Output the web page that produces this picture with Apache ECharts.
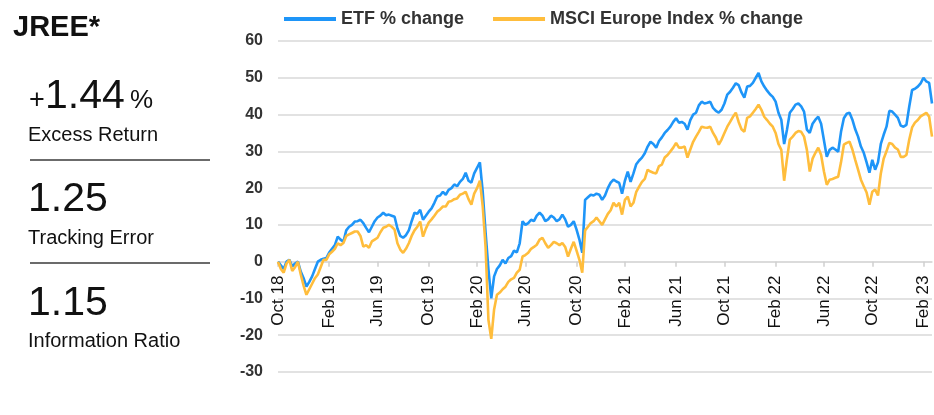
<!DOCTYPE html>
<html>
<head>
<meta charset="utf-8">
<script src="https://cdn.jsdelivr.net/npm/echarts@6/dist/echarts.min.js"></script>
<style>
html,body{margin:0;padding:0;background:#fff;}
#chart{width:934px;height:415px;}
</style>
</head>
<body>
<div id="chart"></div>
<script>
// ---- data (weekly readings, starting week of 1 Oct 2018) ----
const startDate = '2018-10-01';
const tickLabels = ['Oct 18','Feb 19','Jun 19','Oct 19','Feb 20','Jun 20','Oct 20','Feb 21','Jun 21','Oct 21','Feb 22','Jun 22','Oct 22','Feb 23'];
const tickDates  = ['2018-10-01','2019-02-01','2019-06-01','2019-10-01','2020-02-01','2020-06-01','2020-10-01','2021-02-01','2021-06-01','2021-10-01','2022-02-01','2022-06-01','2022-10-01','2023-02-01'];
const etfChange = [
 0,-1,-2,0,0.5,-1.3,-0.5,0,-2.7,-4.5,-6.8,-5.5,-4,-2,0,0.5,0.8,1,2.5,3.5,
 4.5,6.8,6,5.4,8.5,9.5,10,10.9,11,11.4,10.5,9.2,8,9.5,11,12,12.5,13.3,12.6,12.8,
 12.5,12.2,9,7,6.5,7.2,8.5,11,13.3,13,14.1,11.4,12.5,13.6,14.5,16,17.7,18,19,18.2,
 19.5,20,21,20.5,21.7,22.5,24.2,22,21.5,24,25.5,27,19,8,-2,-10,-4,-2,-1,0.5,
 -0.5,1,1.5,3,2.5,5,11,10,10.5,11.4,11,12.5,13.3,12.5,11,11.5,12.5,12,11,11.5,
 12.8,11.5,9.5,10,11,8.7,6,2.4,16.8,17.5,18.2,18,18.5,18.2,16.8,18,20,21.5,22.3,21.8,
 21.4,18.5,22,24.5,21.7,24,26.5,27.5,28.3,29.5,31.3,32.6,32,31,32.8,33.8,35,35.8,36.7,38,
 39,37.8,38,37.5,35.9,38.5,40,40.5,42.5,43.5,43,43.2,43.5,41.8,41,40.5,41.3,43,45.4,46.2,
 47.3,48.5,48,46,44.6,47.6,47.8,48.6,50,51.3,49,47.6,46.5,45.5,44.8,43.5,40.5,38.6,32,35.9,
 40.5,41.5,42.7,43,42.2,40.8,35.9,35,37.5,38.6,39.4,37.5,33,28.5,30.4,31,30.5,29.9,35.3,39,
 40.2,40.5,38.6,36,34,31.3,29.6,27,24.2,27.7,25,27,32,34.5,36.7,41,40.8,40,39.1,37,
 36.7,37.2,42.2,46.7,47,47.6,48.5,50,49,48.6,43
];
const msciChange = [
 0,-2,-3,-0.5,0.5,-2.5,-1.5,0,-3.5,-6.5,-9,-7.5,-6,-4.5,-3.5,-1.5,0.5,0.5,2,2.7,
 3.5,5,4.5,5.1,7,7.4,7.8,8.2,8.2,7,4.1,4.5,3.8,5.5,6,6.5,8,9.2,9.5,10,
 9.5,8.7,5,3.3,2.4,3.5,5,7,8.5,9.5,10.9,6.8,9,10.6,11.5,12.5,13.6,14.2,15,15,
 16.3,16.5,17,17.2,18.2,18.5,19,17,15.5,18.5,20,22,15,4,-15.8,-21,-13,-9,-8.4,-7.5,
 -6.8,-5.5,-4.8,-4.4,-3,-2.2,1.4,1.8,2.4,3.5,4,4.6,6,6.5,5,3.8,4.5,5.4,5,4.5,
 5.1,4,1.4,3.5,5.4,3,0.5,-3,8.5,9.5,10.5,11,12,11,10,11.5,13,14,16,15,
 16,12.8,16.8,17.7,15,16,19,20.4,21.7,22.5,25,24.5,24.2,24,26,26.4,28.3,29,30,31,
 32.3,31,31,31.3,28.3,30.5,32.6,34,35.3,36.7,36.5,36.4,36.7,35,33.7,31.8,33.2,35,36.7,38,
 39.4,40.5,38,36,35.3,39.1,39.5,40.5,41.5,42.7,41.3,39.4,38.5,37.5,36.7,35,32,30.4,22,28,
 33.2,34,35,35.5,35.3,34,30.4,24.5,28,29.6,31,29,24.5,20.9,22.3,22.5,22.8,23.1,27,31.8,
 32.3,32.6,30.5,27.7,25,22.3,20.5,18.8,15.5,19,19.6,18,24,28,30,32.3,32,31,30.5,28.5,
 28.5,29,33.2,36.5,37.8,38.5,39.5,40,40.5,39.4,34
];
const statValues = ['1.44', '1.25', '1.15'];
const statNames = ['Excess Return', 'Tracking Error', 'Information Ratio'];

// ---- build categories (weekly dates) ----
const categories = [];
const t0 = Date.parse(startDate + 'T00:00:00Z');
for (let i = 0; i < etfChange.length; i++) {
  categories.push(new Date(t0 + i * 7 * 86400000).toISOString().slice(0, 10));
}
const labelAt = new Map();
tickDates.forEach((d, k) => {
  const idx = categories.findIndex(c => c >= d);
  if (idx >= 0) labelAt.set(idx, tickLabels[k]);
});

const FONT = '"Liberation Sans", Arial, sans-serif';
const GRID_TOP = 41, GRID_BOTTOM = 43, H = 415;
const Y_MIN = -30, Y_MAX = 60;
const plotH = H - GRID_TOP - GRID_BOTTOM;
// distance from plot bottom up to the zero line
const zeroOffset = plotH * (0 - Y_MIN) / (Y_MAX - Y_MIN);

const chart = echarts.init(document.getElementById('chart'), null, {renderer: 'canvas'});

function txt(text, x, y, size, weight) {
  return {type: 'text', x: x, y: y, silent: true,
    style: {text: text, fill: '#111', fontSize: size, fontWeight: weight || 'normal',
            fontFamily: FONT, align: 'left', verticalAlign: 'middle'}};
}

chart.setOption({
  animation: false,
  backgroundColor: '#fff',
  textStyle: {fontFamily: FONT},
  legend: {
    top: 10, left: 284, padding: 0, itemGap: 29, itemWidth: 52, itemHeight: 4,
    icon: 'rect',
    textStyle: {fontSize: 18, fontWeight: 'bold', color: '#333', fontFamily: FONT}
  },
  grid: {left: 278, right: 2, top: GRID_TOP, bottom: GRID_BOTTOM, containLabel: false, outerBoundsMode: 'none'},
  xAxis: {
    type: 'category', data: categories, boundaryGap: false, position: 'bottom',
    offset: -zeroOffset,
    axisLine: {onZero: false, lineStyle: {color: '#d9d9d9', width: 1.5}},
    axisTick: {show: true, length: 5, interval: (i) => labelAt.has(i), lineStyle: {color: '#cfcfcf', width: 1.5}},
    axisLabel: {interval: (i) => labelAt.has(i), formatter: (v, i) => labelAt.get(i) || '',
      rotate: 90, margin: 14, fontSize: 17, color: '#111', fontFamily: FONT},
    splitLine: {show: false}
  },
  yAxis: {
    type: 'value', min: Y_MIN, max: Y_MAX, interval: 10,
    axisLine: {show: false}, axisTick: {show: false},
    axisLabel: {fontSize: 16, fontWeight: 'bold', color: '#333', margin: 15, fontFamily: FONT},
    splitLine: {lineStyle: {color: '#d9d9d9', width: 1.5}}
  },
  series: [
    {name: 'ETF % change', type: 'line', data: etfChange, showSymbol: false,
     lineStyle: {width: 2.6, color: '#1E95F8'}, itemStyle: {color: '#1E95F8'}},
    {name: 'MSCI Europe Index % change', type: 'line', data: msciChange, showSymbol: false,
     lineStyle: {width: 2.6, color: '#FFBD3C'}, itemStyle: {color: '#FFBD3C'}}
  ],
  graphic: [
    txt('JREE*', 13, 28, 29, 'bold'),
    txt('+', 29, 101, 27),
    txt(statValues[0], 45, 97, 41),
    txt('%', 130, 101, 26),
    txt(statNames[0], 28, 135, 20),
    {type: 'line', silent: true, shape: {x1: 30, y1: 160, x2: 210, y2: 160}, style: {stroke: '#3a3a3a', lineWidth: 1.5}},
    txt(statValues[1], 28, 200, 41),
    txt(statNames[1], 28, 238.5, 20),
    {type: 'line', silent: true, shape: {x1: 30, y1: 263, x2: 210, y2: 263}, style: {stroke: '#3a3a3a', lineWidth: 1.5}},
    txt(statValues[2], 28, 303.5, 41),
    txt(statNames[2], 28, 341.5, 20)
  ]
});
</script>
</body>
</html>
